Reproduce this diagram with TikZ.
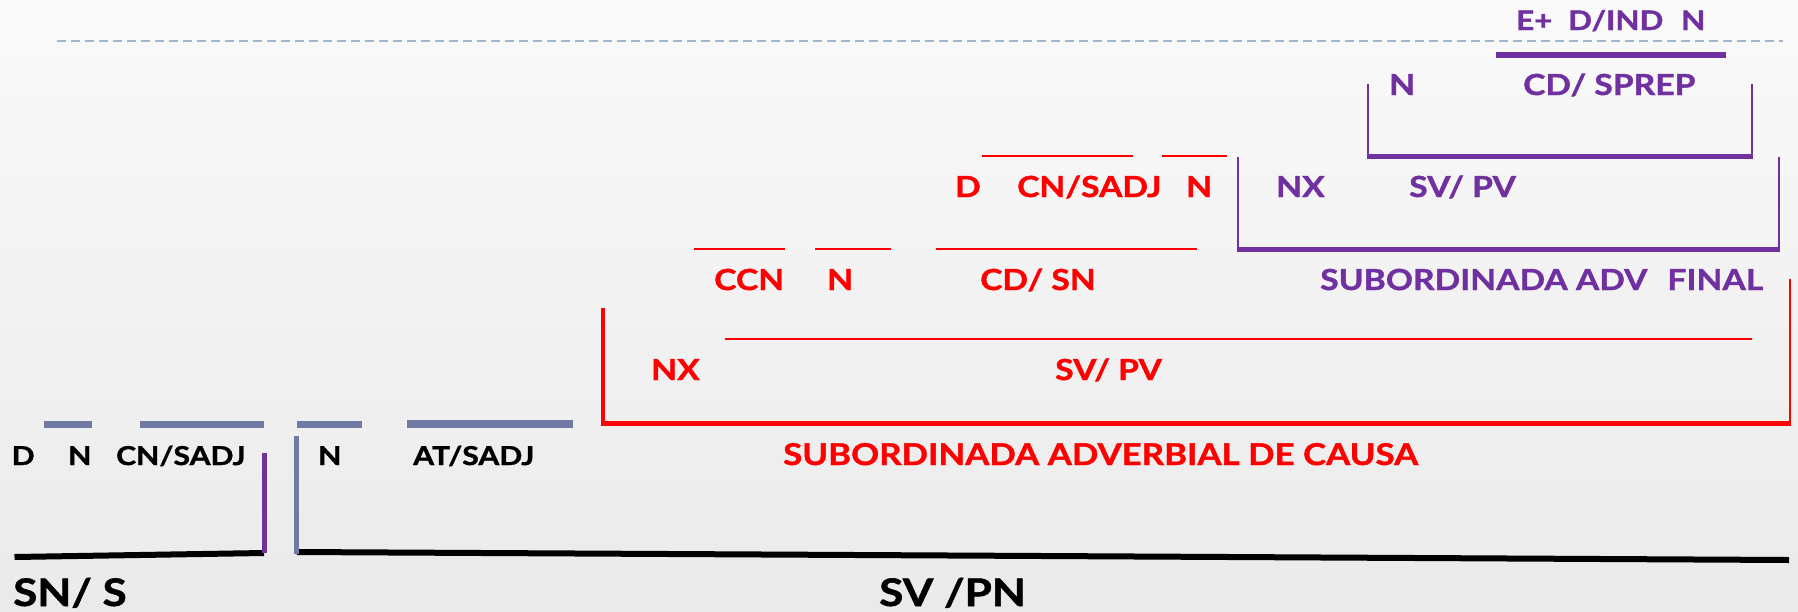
\documentclass[tikz,border=0pt]{standalone}
\usepackage{fontspec}
\setmainfont{Lato}[FakeStretch=1.16, BoldFeatures={FakeBold=1.3}]
\definecolor{myred}{RGB}{255,0,0}
\definecolor{mypurple}{RGB}{112,48,160}
\definecolor{mygray}{RGB}{112,122,163}
\definecolor{dashcol}{RGB}{160,182,204}
\definecolor{bgtop}{RGB}{250,250,250}
\definecolor{bgbot}{RGB}{234,234,234}
\begin{document}
\begin{tikzpicture}[x=1pt,y=-1pt,
  lab/.style={inner sep=0pt, anchor=base west, font=\bfseries\fontsize{29}{34}\selectfont},
  blk/.style={lab, text=black, font=\bfseries\fontsize{26}{30}\selectfont},
  big/.style={lab, text=black, font=\bfseries\fontsize{38}{44}\selectfont},
  redt/.style={lab, text=myred},
  purt/.style={lab, text=mypurple},
  thinred/.style={myred, line width=2pt},
  graybar/.style={mygray, line width=7pt},
  baseline/.style={black, line width=6pt},
  line cap=butt]
\shade[top color=bgtop, bottom color=bgbot] (0,0) rectangle (1798,611);
\useasboundingbox (0,0) rectangle (1798,611);

% dashed top line
\draw[dashcol, line width=1.5pt, dash pattern=on 9pt off 5pt] (57,41) -- (1783,41);

% ---- black level ----
\node[blk] (d1) at (11.5,465) {D};
\node[blk] (n1) at (68,465) {N};
\node[blk] (cn1) at (116,465) {CN/SADJ};
\node[blk] (n2) at (318,465) {N};
\node[blk] (at1) at (413,465) {AT/SADJ};
\node[big] (sns) at (13,606) {SN/ S};
\node[big] (svpn) at (879,606) {SV /PN};

\draw[graybar] (44,424) -- (92,424);
\draw[graybar] (140,424) -- (264,424);
\draw[graybar] (297,424) -- (362,424);
\draw[graybar, line width=8.5pt] (407,424) -- (573,424);

\draw[baseline] (14.5,557) -- (264,553);
\draw[baseline] (297,552) -- (1789,560);
\draw[mypurple, line width=5pt] (264,453) -- (264,553);
\draw[mygray, line width=5pt] (296,436) -- (296,554);

% ---- red level ----
\draw[myred, line width=4.5pt] (603,308) -- (603,425);
\draw[myred, line width=5pt] (601,423) -- (1791,423);
\draw[myred, line width=2.5pt] (1790,279) -- (1790,425);
\node[redt, font=\bfseries\fontsize{30}{36}\selectfont] (causa) at (783,465) {SUBORDINADA ADVERBIAL DE CAUSA};

\draw[thinred] (724.5,339) -- (1752,339);
\node[redt] (nx1) at (651,380) {NX};
\node[redt] (svpv1) at (1055,380) {SV/ PV};

\draw[thinred] (694,249) -- (784.5,249);
\draw[thinred] (815,249) -- (891,249);
\draw[thinred] (935.5,249) -- (1197,249);
\node[redt] (ccn) at (714,290) {CCN};
\node[redt] (n3) at (827,290) {N};
\node[redt] (cdsn) at (980,290) {CD/ SN};

\draw[thinred] (982,156) -- (1133,156);
\draw[thinred] (1162,156) -- (1226.5,156);
\node[redt] (d2) at (955,197) {D};
\node[redt] (cn2) at (1017,197) {CN/SADJ};
\node[redt] (n4) at (1186,197) {N};

% ---- purple level ----
\draw[mypurple, line width=2pt] (1238,157) -- (1238,250);
\draw[mypurple, line width=5pt] (1237,249) -- (1780,249);
\draw[mypurple, line width=2pt] (1779,157) -- (1779,250);
\node[purt] (final) at (1320,290) {SUBORDINADA ADV\hspace{20pt}FINAL};
\node[purt] (nx2) at (1276,197) {NX};
\node[purt] (svpv2) at (1409,197) {SV/ PV};

\draw[mypurple, line width=2pt] (1368,84) -- (1368,157);
\draw[mypurple, line width=5pt] (1367,156) -- (1753,156);
\draw[mypurple, line width=2pt] (1752,84) -- (1752,157);
\node[purt] (n5) at (1389,95) {N};
\node[purt] (cdsprep) at (1523,95) {CD/ SPREP};

\draw[mypurple, line width=6pt] (1496,55) -- (1726,55);
\node[purt, font=\bfseries\fontsize{27}{32}\selectfont] (eplus) at (1516,30) {E+};
\node[purt, font=\bfseries\fontsize{27}{32}\selectfont] (dind) at (1568,30) {D/IND};
\node[purt, font=\bfseries\fontsize{27}{32}\selectfont] (n6) at (1681,30) {N};
\end{tikzpicture}
\end{document}
